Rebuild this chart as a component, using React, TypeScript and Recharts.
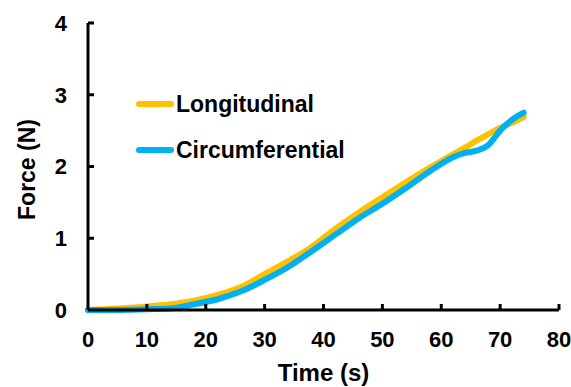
import React from "react";
import { LineChart, Line, XAxis, YAxis, Legend, Label } from "recharts";

const times = [0, 5, 10, 14, 18, 22, 26, 30, 34, 38, 42, 46, 50, 54, 58, 62, 64, 66, 68, 70, 72, 74];
const longitudinal = [0, 0.02, 0.05, 0.08, 0.13, 0.21, 0.32, 0.5, 0.68, 0.88, 1.13, 1.36, 1.57, 1.78, 1.98, 2.17, 2.26, 2.36, 2.45, 2.54, 2.61, 2.69];
const circumferential = [0, 0, 0.01, 0.02, 0.08, 0.15, 0.26, 0.42, 0.6, 0.82, 1.05, 1.28, 1.48, 1.7, 1.93, 2.13, 2.19, 2.22, 2.3, 2.5, 2.65, 2.75];
const xTicks = [0, 10, 20, 30, 40, 50, 60, 70, 80];
const yTicks = [0, 1, 2, 3, 4];

const series = [
  { key: "longitudinal", name: "Longitudinal", color: "#FFC000" },
  { key: "circumferential", name: "Circumferential", color: "#00B0F0" },
];

const data = times.map((t, i) => ({
  time: t,
  longitudinal: longitudinal[i],
  circumferential: circumferential[i],
}));

const FONT = "'Liberation Sans', Arial, sans-serif";
const TICK_SIZE = 6;
const TICK_MARGIN = 15;

const YTick = (props: any) => {
  const { x, y, payload } = props;
  const axisX = x + TICK_SIZE + TICK_MARGIN;
  return (
    <g>
      {payload.value !== 0 && (
        <line x1={axisX} x2={axisX + 6} y1={y} y2={y} stroke="#000" strokeWidth={3} />
      )}
      <text
        x={axisX - 21}
        y={y}
        dy="0.36em"
        textAnchor="end"
        fontFamily={FONT}
        fontWeight="bold"
        fontSize={22}
        fill="#000"
      >
        {payload.value}
      </text>
    </g>
  );
};

const XTick = (props: any) => {
  const { x, y, payload } = props;
  const axisY = y - TICK_SIZE - TICK_MARGIN;
  return (
    <g>
      {payload.value !== 0 && (
        <line x1={x} x2={x} y1={axisY} y2={axisY - 6} stroke="#000" strokeWidth={3} />
      )}
      <text
        x={x}
        y={y}
        dy="0.71em"
        textAnchor="middle"
        fontFamily={FONT}
        fontWeight="bold"
        fontSize={22}
        fill="#000"
      >
        {payload.value}
      </text>
    </g>
  );
};

const LegendContent = () => (
  <div style={{ fontFamily: FONT, fontWeight: "bold", fontSize: 23, color: "#000" }}>
    {series.map((s) => (
      <div key={s.key} style={{ display: "flex", alignItems: "center", height: 46 }}>
        <div
          style={{
            width: 38,
            height: 6,
            borderRadius: 3,
            background: s.color,
            marginRight: 2,
          }}
        />
        <span>{s.name}</span>
      </div>
    ))}
  </div>
);

export default function App() {
  return (
    <div style={{ position: "absolute", left: 0, top: 0, background: "#fff" }}>
      <LineChart
        width={571}
        height={387}
        data={data}
        margin={{ top: 23, right: 12, bottom: 27, left: 28 }}
      >
        <XAxis
          dataKey="time"
          type="number"
          domain={[0, 80]}
          ticks={xTicks}
          interval={0}
          height={50}
          tickSize={TICK_SIZE}
          tickMargin={TICK_MARGIN}
          tickLine={false}
          axisLine={{ stroke: "#000", strokeWidth: 3 }}
          tick={<XTick />}
        >
          <Label
            content={(p: any) => {
              const vb = p.viewBox;
              return (
                <text
                  x={vb.x + vb.width / 2}
                  y={381}
                  textAnchor="middle"
                  fontFamily={FONT}
                  fontWeight="bold"
                  fontSize={24}
                  fill="#000"
                >
                  Time (s)
                </text>
              );
            }}
          />
        </XAxis>
        <YAxis
          type="number"
          domain={[0, 4]}
          ticks={yTicks}
          interval={0}
          width={60}
          tickSize={TICK_SIZE}
          tickMargin={TICK_MARGIN}
          tickLine={false}
          axisLine={{ stroke: "#000", strokeWidth: 3 }}
          tick={<YTick />}
        >
          <Label
            content={(p: any) => {
              const vb = p.viewBox;
              const cx = 27;
              const cy = vb.y + vb.height / 2 + 3;
              return (
                <text
                  x={cx}
                  y={cy}
                  dy="0.36em"
                  transform={`rotate(-90, ${cx}, ${cy})`}
                  textAnchor="middle"
                  fontFamily={FONT}
                  fontWeight="bold"
                  fontSize={23}
                  fill="#000"
                >
                  Force (N)
                </text>
              );
            }}
          />
        </YAxis>
        <Legend
          layout="vertical"
          verticalAlign="middle"
          align="center"
          content={<LegendContent />}
          wrapperStyle={{ left: 136, top: 81, width: 260 }}
        />
        {series.map((s) => (
          <Line
            key={s.key}
            dataKey={s.key}
            name={s.name}
            type="monotone"
            stroke={s.color}
            strokeWidth={6}
            dot={false}
            activeDot={false}
            strokeLinecap="round"
            isAnimationActive={false}
          />
        ))}
      </LineChart>
    </div>
  );
}
